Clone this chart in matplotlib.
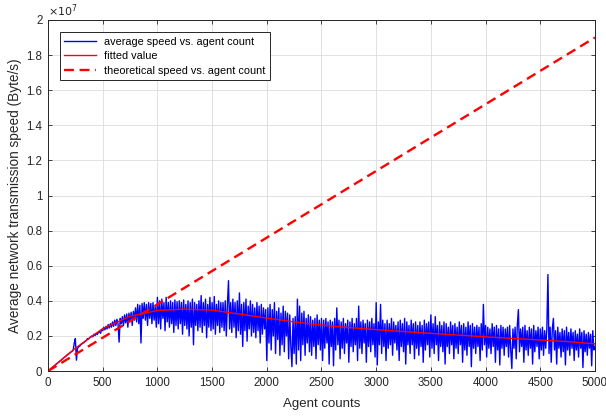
import numpy as np
import matplotlib.pyplot as plt
from matplotlib.ticker import FuncFormatter, MultipleLocator

plt.rcParams['font.family'] = ['Liberation Sans', 'DejaVu Sans']

# measured speed, one value every 10 agents (units: 1e6 Byte/s), one row per 100 agents
speed = [
    0, 0.05, 0.1, 0.16, 0.21, 0.26, 0.31, 0.37, 0.42, 0.47,
    0.52, 0.58, 0.62, 0.68, 0.73, 0.79, 0.83, 0.89, 0.94, 0.99,
    1.03, 1.09, 1.12, 1.18, 1.6, 1.85, 0.62, 1.3, 1.38, 1.42,
    1.5, 1.55, 1.6, 1.62, 1.7, 1.73, 1.85, 1.82, 1.9, 1.95,
    2.0, 1.95, 2.1, 2.02, 2.15, 2.08, 2.2, 2.25, 2.15, 2.35,
    2.3, 2.5, 2.35, 2.55, 2.4, 2.65, 2.45, 2.7, 2.5, 2.8,
    2.55, 2.9, 2.6, 2.95, 2.7, 1.65, 3.0, 2.7, 3.1, 2.6,
    3.2, 2.75, 3.25, 2.5, 3.3, 2.8, 3.35, 2.6, 3.4, 2.9,
    3.6, 2.8, 3.8, 2.7, 3.75, 1.6, 3.85, 3.0, 3.9, 2.9,
    3.8, 2.6, 3.9, 3.0, 3.85, 2.7, 3.9, 2.9, 3.7, 2.5,
    4.2, 2.7, 4.0, 2.4, 4.1, 3.0, 3.9, 2.3, 4.2, 2.8,
    3.9, 2.5, 4.0, 2.7, 3.9, 2.2, 4.05, 2.6, 3.95, 2.4,
    4.0, 2.7, 3.9, 2.1, 4.05, 2.6, 3.8, 2.4, 4.0, 2.0,
    3.9, 2.5, 4.1, 1.5, 3.9, 2.6, 3.8, 2.3, 4.0, 2.5,
    4.3, 2.2, 3.9, 2.6, 4.1, 1.9, 3.8, 2.5, 4.2, 2.3,
    3.9, 2.4, 4.25, 2.1, 3.8, 2.6, 4.0, 2.2, 3.9, 2.5,
    3.9, 2.3, 4.0, 2.0, 3.8, 5.15, 2.4, 3.9, 2.2, 4.1,
    2.5, 3.9, 1.9, 4.0, 2.3, 4.45, 2.1, 3.8, 1.4, 3.9,
    2.3, 4.1, 1.7, 3.7, 2.4, 4.0, 2.0, 3.8, 2.2, 3.6,
    1.9, 3.9, 2.3, 3.7, 1.6, 3.8, 2.1, 3.6, 2.4, 3.5,
    0.6, 3.6, 1.6, 3.8, 1.2, 3.5, 2.0, 3.9, 1.0, 3.4,
    1.8, 3.6, 0.9, 3.3, 1.5, 3.7, 1.1, 3.4, 2.0, 3.3,
    0.7, 3.2, 1.4, 0.25, 3.0, 1.0, 3.1, 0.4, 4.1, 1.2,
    3.7, 0.6, 3.3, 1.5, 3.4, 0.9, 3.0, 1.6, 3.2, 1.1,
    3.1, 0.9, 2.9, 1.4, 3.0, 0.7, 3.2, 1.5, 2.9, 1.2,
    3.0, 0.6, 2.9, 1.3, 3.0, 1.6, 2.8, 0.4, 2.9, 1.4,
    2.8, 0.3, 3.0, 1.2, 3.6, 1.5, 2.9, 0.7, 2.8, 1.3,
    3.0, 1.0, 2.7, 1.6, 2.9, 0.5, 2.8, 1.4, 3.0, 1.1,
    2.7, 1.5, 3.0, 0.6, 3.7, 1.3, 2.8, 1.0, 2.9, 1.6,
    2.7, 0.5, 2.9, 1.4, 2.8, 1.1, 3.0, 1.5, 2.7, 0.8,
    3.9, 0.35, 2.8, 1.5, 3.8, 1.0, 2.9, 1.4, 2.7, 0.6,
    2.9, 1.3, 2.7, 1.5, 3.0, 0.9, 2.8, 1.6, 2.6, 1.2,
    2.8, 0.6, 2.9, 1.4, 2.7, 1.1, 3.0, 0.4, 2.8, 1.5,
    2.6, 1.0, 2.9, 1.5, 2.7, 0.7, 2.8, 1.3, 2.6, 0.9,
    2.8, 1.4, 2.6, 0.5, 2.9, 1.2, 2.7, 1.5, 2.8, 0.8,
    3.2, 1.3, 2.7, 1.0, 3.1, 1.5, 2.6, 0.6, 2.8, 1.4,
    2.6, 1.1, 2.8, 0.4, 2.7, 1.4, 2.5, 1.0, 2.8, 1.5,
    2.6, 0.7, 2.7, 1.3, 2.5, 1.0, 2.8, 1.5, 2.6, 0.5,
    2.7, 1.2, 2.5, 0.9, 2.8, 1.4, 2.6, 0.25, 2.7, 1.3,
    2.5, 1.0, 2.6, 1.4, 2.5, 0.6, 2.7, 1.2, 3.8, 1.5,
    2.6, 0.8, 2.5, 1.3, 2.4, 1.0, 2.7, 1.4, 2.5, 0.5,
    2.6, 1.2, 2.4, 0.35, 2.6, 1.3, 2.5, 0.9, 2.4, 1.4,
    2.5, 0.8, 2.6, 1.2, 0.15, 2.4, 1.3, 2.5, 0.7, 2.6,
    3.5, 1.1, 2.4, 1.4, 2.5, 0.5, 2.6, 1.2, 2.3, 0.9,
    2.5, 1.3, 2.4, 0.4, 2.6, 1.1, 2.3, 1.4, 2.5, 0.7,
    2.4, 1.2, 2.5, 0.9, 2.3, 1.3, 2.4, 5.5, 1.0, 2.5,
    0.5, 2.4, 3.0, 1.2, 2.3, 0.4, 2.5, 1.3, 2.2, 0.8,
    2.4, 1.1, 2.3, 0.35, 2.5, 1.2, 2.2, 0.9, 2.4, 1.3,
    2.2, 0.6, 2.3, 1.2, 2.1, 0.8, 2.4, 1.3, 2.2, 0.2,
    2.3, 1.1, 2.1, 0.9, 2.2, 1.3, 2.1, 0.3, 2.3, 1.2,
    1.4,
]
agents = np.arange(len(speed)) * 10

# fitted curve, one value every 250 agents (units: 1e6 Byte/s)
fit_agents = np.arange(0, 5001, 250)
fit_speed = [0, 1.3, 2.42, 3.12, 3.45, 3.53, 3.47, 3.25, 3.02, 2.8, 2.62,
             2.48, 2.36, 2.25, 2.15, 2.05, 1.95, 1.86, 1.77, 1.68, 1.55]

# theoretical speed (linear)
theo_agents = [0, 5000]
theo_speed = [0, 19.0]

fig = plt.figure(figsize=(6.06, 4.16), dpi=100)
ax = fig.add_axes([0.0792, 0.108, 0.9026, 0.844])

ax.plot(agents, np.array(speed) * 1e6, color='#0000ff', lw=1.0,
        label='average speed vs. agent count')
ax.plot(fit_agents, np.array(fit_speed) * 1e6, color='#ff0000', lw=1.0,
        label='fitted value')
ax.plot(theo_agents, np.array(theo_speed) * 1e6, color='#ff0000', lw=1.7,
        ls=(0, (4.2, 2.4)), label='theoretical speed vs. agent count')

ax.set_xlim(0, 5000)
ax.set_ylim(0, 2e7)
ax.xaxis.set_major_locator(MultipleLocator(500))
ax.yaxis.set_major_locator(MultipleLocator(2e6))
ax.yaxis.set_major_formatter(FuncFormatter(lambda v, p: '%g' % round(v / 1e7, 2)))
ax.tick_params(direction='in', top=True, right=True, labelsize=8.3,
               length=3, width=0.6, colors='#262626', pad=4)
for s in ax.spines.values():
    s.set_linewidth(0.7)
    s.set_color('#262626')
ax.grid(True, color='#dcdcdc', lw=0.6)
ax.set_axisbelow(True)

ax.text(0.0, 1.004, r'$\times10^{7}$', transform=ax.transAxes,
        fontsize=8, color='#262626', va='bottom', ha='left')
ax.set_xlabel('Agent counts', fontsize=9.5, color='#262626', labelpad=7)
ax.set_ylabel('Average network transmission speed (Byte/s)', fontsize=9.8,
              color='#262626', labelpad=3)

leg = ax.legend(loc='upper left', bbox_to_anchor=(0.022, 0.965), fontsize=7.8,
                fancybox=False, framealpha=1, edgecolor='#262626',
                handlelength=2.9, borderpad=0.4, labelspacing=0.42,
                borderaxespad=0)
leg.get_frame().set_linewidth(0.7)

fig.savefig('out.png', dpi=100)
